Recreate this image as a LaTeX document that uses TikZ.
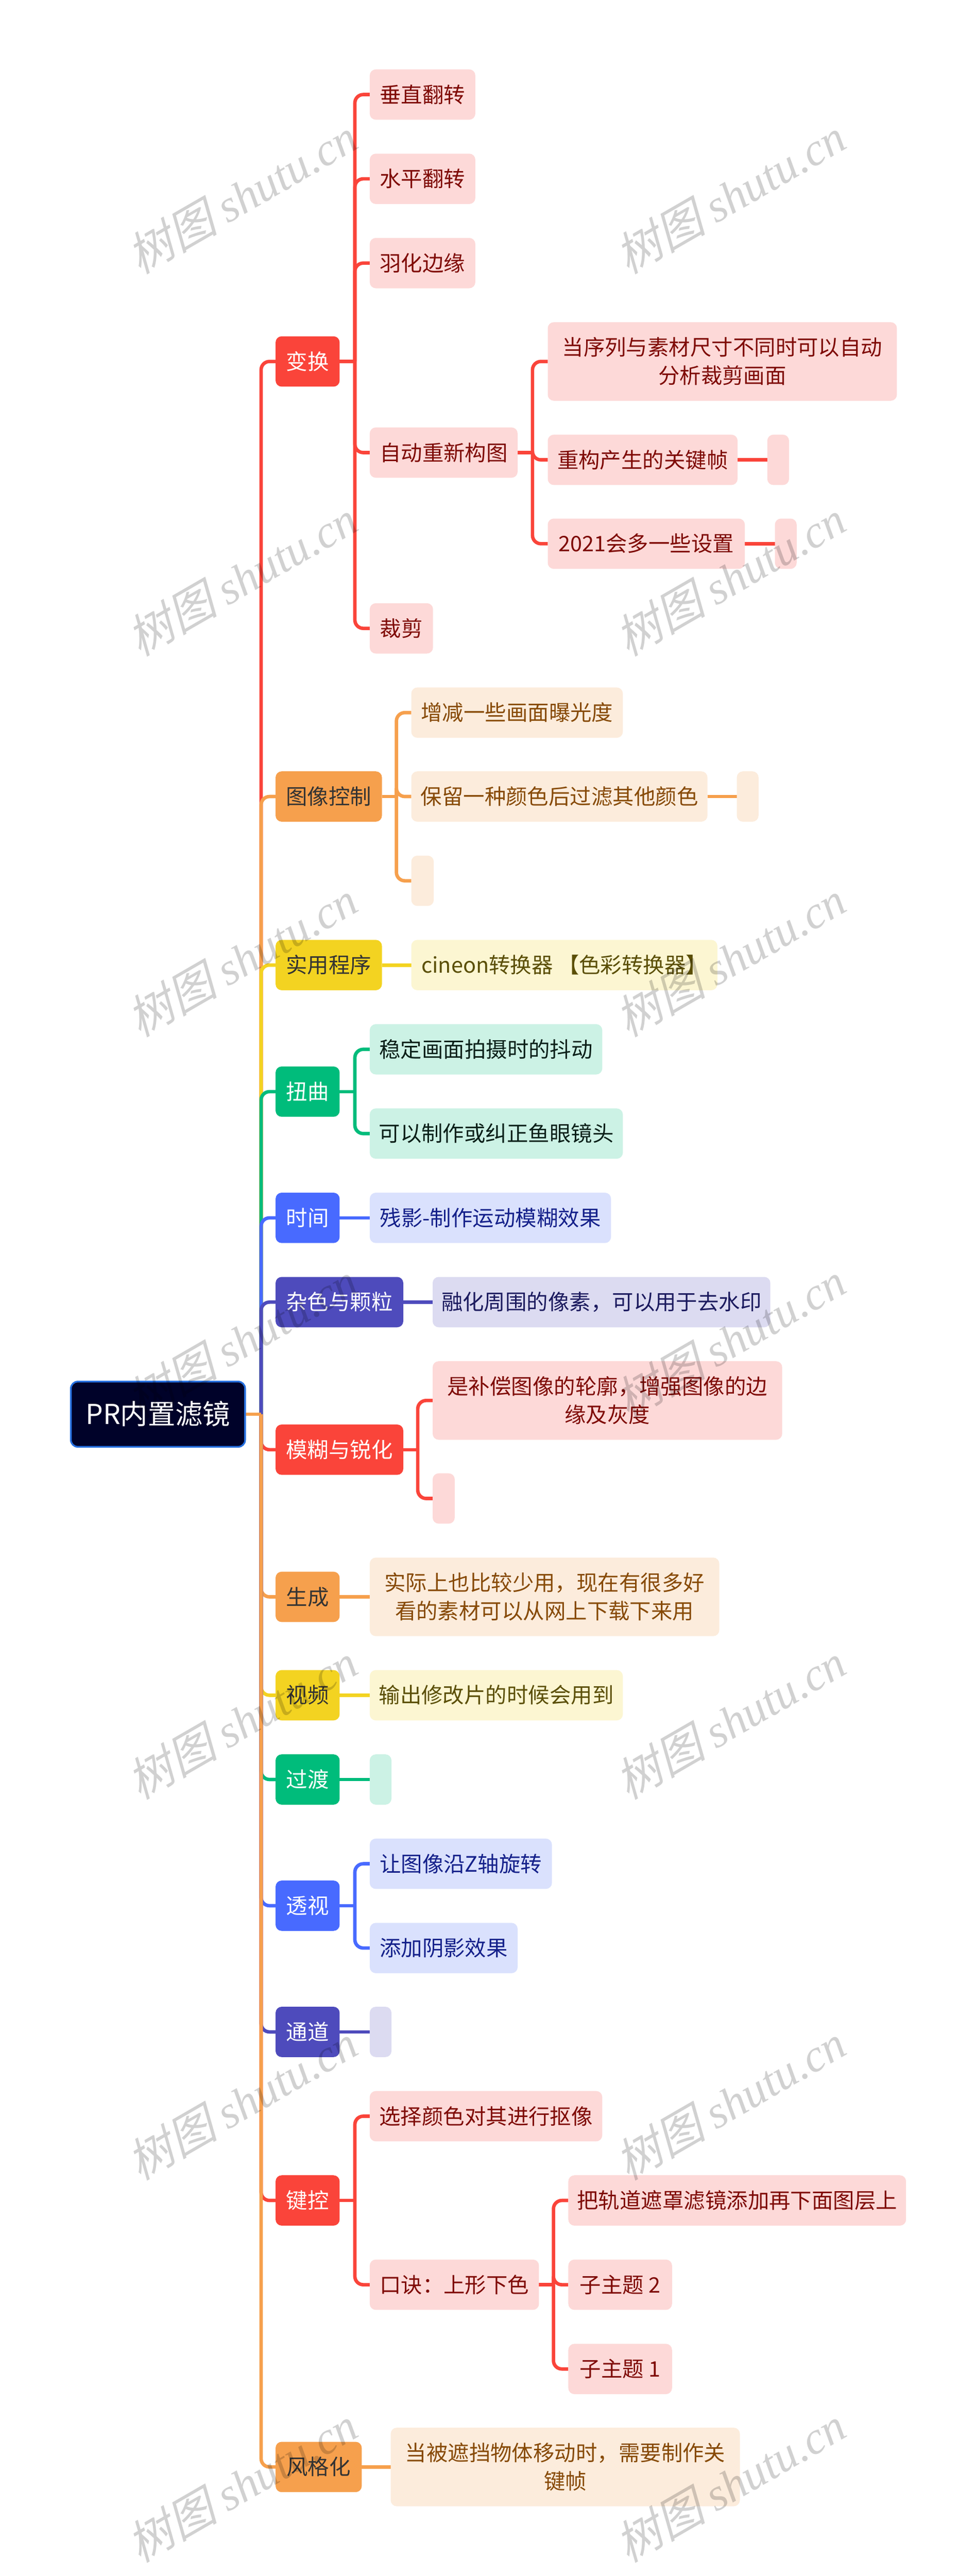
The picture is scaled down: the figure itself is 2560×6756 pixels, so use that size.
\documentclass[tikz,border=0pt]{standalone}
\usepackage{fontspec}
\setmainfont{Noto Sans CJK SC}
\newfontfamily\wmfont[FakeSlant=0.25]{Noto Sans CJK SC}
\newfontfamily\wmlat{Liberation Serif}[ItalicFont=Liberation Serif Italic]
\pgfdeclarelayer{back}
\pgfdeclarelayer{front}
\pgfsetlayers{back,main,front}
\definecolor{cR}{HTML}{FA443A}\definecolor{pR}{HTML}{FDD9D8}\definecolor{tR}{HTML}{7F0A05}
\definecolor{cO}{HTML}{F6A04D}\definecolor{pO}{HTML}{FCECDC}\definecolor{tO}{HTML}{874A06}
\definecolor{cY}{HTML}{F3D321}\definecolor{pY}{HTML}{FCF6D2}\definecolor{tY}{HTML}{5B4F06}
\definecolor{cG}{HTML}{00BC7B}\definecolor{pG}{HTML}{CCF2E5}\definecolor{tG}{HTML}{0A1F18}
\definecolor{cB}{HTML}{486AFF}\definecolor{pB}{HTML}{DAE1FD}\definecolor{tB}{HTML}{14208A}
\definecolor{cI}{HTML}{4E4BBC}\definecolor{pI}{HTML}{DCDBF1}\definecolor{tI}{HTML}{1B1A5E}
\definecolor{cRoot}{HTML}{000229}\definecolor{bRoot}{HTML}{2670E0}
\definecolor{tDark}{HTML}{333333}
\newcommand\st{\rule[-7pt]{0pt}{56pt}}
% name, x0, x1, cy, height, style, text
\newcommand\bx[7]{\pgfmathsetmacro\cxx{(#2+#3)/2}\pgfmathsetmacro\wdd{#3-#2}\node[box,#6,minimum width=\wdd pt,minimum height=#5pt] (#1) at (\cxx,#4) {#7};}
\newcommand\stub[3]{\path (#2.east) ++(#3,0) coordinate (j#2); \draw[conn,#1] (#2.east) -- (j#2);}
\newcommand\kid[3]{\draw[conn,#1] (j#2) |- (#3.west);}
\newcommand\direct[3]{\draw[conn,#1] (#2.east) -- (#3.west);}
\tikzset{
  x=1pt,y=-1pt,
  box/.style={rectangle,rounded corners=16pt,inner sep=0pt,outer sep=0pt,align=center,font=\fontsize{56}{74}\selectfont},
  conn/.style={line width=9pt,rounded corners=22pt,line cap=butt},
  topR/.style={fill=cR,text=white},subR/.style={fill=pR,text=tR},
  topO/.style={fill=cO,text=tDark},subO/.style={fill=pO,text=tO},
  topY/.style={fill=cY,text=tDark},subY/.style={fill=pY,text=tY},
  topG/.style={fill=cG,text=white},subG/.style={fill=pG,text=tG},
  topB/.style={fill=cB,text=white},subB/.style={fill=pB,text=tB},
  topI/.style={fill=cI,text=white},subI/.style={fill=pI,text=tI},
  rootbox/.style={fill=cRoot,draw=bRoot,line width=4.5pt,text=white,rounded corners=18pt,font=\fontsize{72}{90}\selectfont},
  wm/.style={rotate=30,text=black,text opacity=0.18,inner sep=0pt,font=\fontsize{120}{120}\selectfont}
}
\begin{document}
\begin{tikzpicture}
\useasboundingbox (0,0) rectangle (2560,6756);
% root
\bx{root}{186}{643}{3709}{171}{rootbox}{\rule[-9pt]{0pt}{72pt}PR内置滤镜}
\coordinate (trunk) at (685,3709);
% top-level
\bx{a}{723}{891}{948}{132}{topR}{\st 变换}
\bx{b}{723}{1002}{2089}{132}{topO}{\st 图像控制}
\bx{c}{723}{1002}{2531}{132}{topY}{\st 实用程序}
\bx{d}{723}{891}{2863}{132}{topG}{\st 扭曲}
\bx{e}{723}{891}{3194}{132}{topB}{\st 时间}
\bx{f}{723}{1058}{3415}{132}{topI}{\st 杂色与颗粒}
\bx{g}{723}{1058}{3802}{132}{topR}{\st 模糊与锐化}
\bx{h}{723}{891}{4188}{132}{topO}{\st 生成}
\bx{i}{723}{891}{4446}{132}{topY}{\st 视频}
\bx{k}{723}{891}{4667}{132}{topG}{\st 过渡}
\bx{l}{723}{891}{4998}{132}{topB}{\st 透视}
\bx{m}{723}{891}{5329}{132}{topI}{\st 通道}
\bx{n}{723}{891}{5771}{132}{topR}{\st 键控}
\bx{o}{723}{949}{6470}{132}{topO}{\st 风格化}
% a children
\bx{a1}{970}{1247}{248}{132}{subR}{\st 垂直翻转}
\bx{a2}{970}{1247}{469}{132}{subR}{\st 水平翻转}
\bx{a3}{970}{1247}{690}{132}{subR}{\st 羽化边缘}
\bx{a4}{970}{1358}{1187}{132}{subR}{\st 自动重新构图}
\bx{a5}{970}{1136}{1648}{132}{subR}{\st 裁剪}
\bx{a41}{1437}{2353}{948}{206}{subR}{\st 当序列与素材尺寸不同时可以自动\\\st 分析裁剪画面}
\bx{a42}{1437}{1935}{1206}{132}{subR}{\st 重构产生的关键帧}
\bx{a43}{1437}{1954}{1426}{132}{subR}{\st 2021会多一些设置}
\bx{a421}{2013}{2070}{1206}{132}{subR}{}
\bx{a431}{2033}{2090}{1426}{132}{subR}{}
% b children
\bx{b1}{1079}{1634}{1869}{132}{subO}{\st 增减一些画面曝光度}
\bx{b2}{1079}{1856}{2089}{132}{subO}{\st 保留一种颜色后过滤其他颜色}
\bx{b21}{1933}{1990}{2089}{132}{subO}{}
\bx{b3}{1079}{1138}{2310}{132}{subO}{}
% c
\bx{c1}{1079}{1882}{2531}{132}{subY}{\st cineon转换器 【色彩转换器】}
% d
\bx{d1}{970}{1580}{2752}{132}{subG}{\st 稳定画面拍摄时的抖动}
\bx{d2}{970}{1634}{2973}{132}{subG}{\st 可以制作或纠正鱼眼镜头}
% e
\bx{e1}{970}{1603}{3194}{132}{subB}{\st 残影-制作运动模糊效果}
% f
\bx{f1}{1135}{2021}{3415}{132}{subI}{\st 融化周围的像素，可以用于去水印}
% g
\bx{g1}{1135}{2052}{3673}{206}{subR}{\st 是补偿图像的轮廓，增强图像的边\\\st 缘及灰度}
\bx{g2}{1135}{1193}{3930}{132}{subR}{}
% h
\bx{h1}{970}{1887}{4188}{206}{subO}{\st 实际上也比较少用，现在有很多好\\\st 看的素材可以从网上下载下来用}
% i
\bx{i1}{970}{1634}{4446}{132}{subY}{\st 输出修改片的时候会用到}
% k
\bx{k1}{970}{1027}{4667}{132}{subG}{}
% l
\bx{l1}{970}{1448}{4888}{132}{subB}{\st 让图像沿Z轴旋转}
\bx{l2}{970}{1358}{5109}{132}{subB}{\st 添加阴影效果}
% m
\bx{m1}{970}{1027}{5329}{132}{subI}{}
% n
\bx{n1}{970}{1580}{5550}{132}{subR}{\st 选择颜色对其进行抠像}
\bx{n2}{970}{1414}{5992}{132}{subR}{\st 口诀：上形下色}
\bx{n21}{1491}{2377}{5771}{132}{subR}{\st 把轨道遮罩滤镜添加再下面图层上}
\bx{n22}{1491}{1763}{5992}{132}{subR}{\st 子主题 2}
\bx{n23}{1491}{1763}{6213}{132}{subR}{\st 子主题 1}
% o
\bx{o1}{1025}{1941}{6470}{206}{subO}{\st 当被遮挡物体移动时，需要制作关\\\st 键帧}
\begin{pgfonlayer}{back}
  \fill[white] (0,0) rectangle (2560,6756);
  % trunk: farther branches first above the root
  \draw[conn,cR] (trunk) |- (a.west);
  \draw[conn,cO] (trunk) |- (b.west);
  \draw[conn,cY] (trunk) |- (c.west);
  \draw[conn,cG] (trunk) |- (d.west);
  \draw[conn,cB] (trunk) |- (e.west);
  \draw[conn,cI] (trunk) |- (f.west);
  % below the root: nearer branches first
  \draw[conn,cR] (trunk) |- (g.west);
  \draw[conn,cO] (trunk) |- (h.west);
  \draw[conn,cY] (trunk) |- (i.west);
  \draw[conn,cG] (trunk) |- (k.west);
  \draw[conn,cB] (trunk) |- (l.west);
  \draw[conn,cI] (trunk) |- (m.west);
  \draw[conn,cR] (trunk) |- (n.west);
  \draw[conn,cO] (trunk) |- (o.west);
  \draw[conn,cO] (root.east) -- (trunk);
  % a
  \stub{cR}{a}{40}
  \kid{cR}{a}{a1}\kid{cR}{a}{a2}\kid{cR}{a}{a3}\kid{cR}{a}{a4}\kid{cR}{a}{a5}
  \stub{cR}{a4}{39}
  \kid{cR}{a4}{a41}\kid{cR}{a4}{a42}\kid{cR}{a4}{a43}
  \direct{cR}{a42}{a421}\direct{cR}{a43}{a431}
  % b
  \stub{cO}{b}{38}
  \kid{cO}{b}{b1}\kid{cO}{b}{b2}\kid{cO}{b}{b3}
  \direct{cO}{b2}{b21}
  \direct{cY}{c}{c1}
  \stub{cG}{d}{40}
  \kid{cG}{d}{d1}\kid{cG}{d}{d2}
  \direct{cB}{e}{e1}
  \direct{cI}{f}{f1}
  \stub{cR}{g}{38}
  \kid{cR}{g}{g1}\kid{cR}{g}{g2}
  \direct{cO}{h}{h1}
  \direct{cY}{i}{i1}
  \direct{cG}{k}{k1}
  \stub{cB}{l}{40}
  \kid{cB}{l}{l1}\kid{cB}{l}{l2}
  \direct{cI}{m}{m1}
  \stub{cR}{n}{40}
  \kid{cR}{n}{n1}\kid{cR}{n}{n2}
  \stub{cR}{n2}{38}
  \kid{cR}{n2}{n21}\kid{cR}{n2}{n22}\kid{cR}{n2}{n23}
  \direct{cO}{o}{o1}
\end{pgfonlayer}
\begin{pgfonlayer}{front}
  \foreach \r/\yy in {1/514,2/1516,3/2515,4/3515,5/4514,6/5513,7/6516}{
    \node[wm] (wmA\r) at (634,\yy) {{\wmfont 树图} {\wmlat\itshape shutu.cn}};
    \node[wm] (wmB\r) at (1915,\yy) {{\wmfont 树图} {\wmlat\itshape shutu.cn}};
  }
\end{pgfonlayer}
\end{tikzpicture}
\end{document}
